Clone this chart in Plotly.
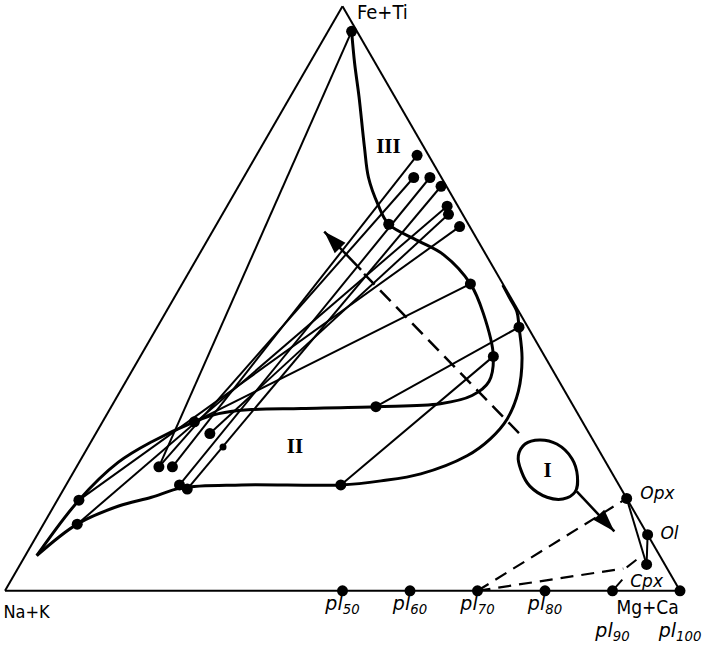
import plotly.graph_objects as go

# Ternary data in percent: a = Fe+Ti (top), c = Mg+Ca (right), b = Na+K = 100 - a - c
curve_upper_a = [95.7, 90.2, 84.5, 75.9, 70.7, 66.1, 62.7, 59.9, 57.5, 52.5, 47.5, 40.1,
                 35.8, 33.4, 32.0, 31.5, 31.2, 31.0, 30.3, 28.9, 25.5, 22.0, 15.5, 6.0]
curve_upper_c = [3.5, 6.7, 10.2, 15.3, 18.5, 22.2, 25.5, 31.2, 36.2, 42.7, 47.1, 52.3,
                 53.8, 52.5, 48.5, 39.2, 28.3, 21.0, 16.5, 13.6, 9.0, 5.8, 3.2, 1.7]

curve_lower_a = [6.0, 11.4, 14.5, 16.0, 17.6, 18.1, 18.1, 18.8, 20.0, 23.1, 26.0, 29.4,
                 34.1, 39.8, 45.1, 47.7, 50.1, 52.3]
curve_lower_c = [1.7, 5.0, 9.6, 13.7, 17.4, 26.0, 40.7, 46.3, 51.6, 56.9, 58.9, 59.7,
                 59.0, 56.7, 53.6, 52.0, 49.7, 47.6]

field_I_a = [23.1, 25.1, 25.8, 25.1, 22.6, 19.6, 16.9, 15.7, 16.0, 17.9, 20.3, 23.1]
field_I_c = [64.5, 64.5, 66.3, 69.2, 72.7, 75.0, 76.0, 74.8, 72.3, 68.8, 66.4, 64.5]

tie_from_a = [74.5, 70.7, 70.7, 69.2, 65.8, 64.4, 62.3, 95.7, 28.9, 31.5, 18.1, 15.8, 9.6, 0.0, 4.0]
tie_from_c = [23.8, 25.2, 27.6, 30.0, 32.6, 33.5, 36.2, 3.5, 13.6, 39.2, 40.7, 84.2, 90.4, 90.0, 90.1]
tie_to_a = [21.2, 21.2, 18.1, 17.4, 11.4, 26.9, 15.5, 21.2, 52.5, 45.1, 40.1, 4.5, 4.5, 1.9, 5.3]
tie_to_c = [14.2, 12.2, 16.8, 18.3, 5.0, 16.9, 3.2, 12.2, 42.7, 53.6, 52.3, 92.8, 92.8, 90.5, 90.9]

dashed_from_a = [0.0, 0.0]
dashed_from_c = [70.0, 70.0]
dashed_to_a = [15.8, 3.8]
dashed_to_c = [84.2, 89.7]

arrow_solid_a = [61.45, 54.9]
arrow_solid_c = [16.57, 25.3]
arrow_dash_a = [54.2, 26.5]
arrow_dash_c = [26.1, 63.3]
arrow_end_a = [17.0, 10.15]
arrow_end_c = [76.2, 85.2]

dot_a = [95.7, 74.5, 70.7, 70.7, 69.2, 65.8, 64.4, 62.3, 62.7, 52.5, 40.1, 45.1, 31.5,
         18.1, 28.9, 26.9, 21.2, 21.2, 18.1, 17.4, 15.5, 11.4, 15.8, 9.6, 4.5,
         0, 0, 0, 0, 0, 0]
dot_c = [3.5, 23.8, 25.2, 27.6, 30.0, 32.6, 33.5, 36.2, 25.5, 42.7, 52.3, 53.6, 39.2,
         40.7, 13.6, 16.9, 12.2, 14.2, 16.8, 18.3, 3.2, 5.0, 84.2, 90.4, 92.8,
         50, 60, 70, 80, 90, 100]
small_dot_a = [24.6]
small_dot_c = [20.0]

pl_c = [50, 60, 70, 80]
pl_text = ["<i>pl<sub>50</sub></i>", "<i>pl<sub>60</sub></i>",
           "<i>pl<sub>70</sub></i>", "<i>pl<sub>80</sub></i>"]
pl_low_c = [90, 100]
pl_low_text = ["<i>pl<sub>90</sub></i>", "<i>pl<sub>100</sub></i>"]

field_labels = ["<b>III</b>", "<b>II</b>", "<b>I</b>"]
field_label_a = [75.8, 24.5, 20.4]
field_label_c = [18.9, 30.7, 70.2]


def tern(a_list, c_list):
    b_list = [None if a is None else max(0.0, round(100 - a - c, 4))
              for a, c in zip(a_list, c_list)]
    return dict(a=a_list, b=b_list, c=c_list)


def segments(fa, fc, ta, tc):
    a, c = [], []
    for i in range(len(fa)):
        a += [fa[i], ta[i], None]
        c += [fc[i], tc[i], None]
    return a, c


fig = go.Figure()
common = dict(cliponaxis=False, hoverinfo="skip", showlegend=False)

# tie lines
ta, tc = segments(tie_from_a, tie_from_c, tie_to_a, tie_to_c)
fig.add_trace(go.Scatterternary(**tern(ta, tc), mode="lines",
                                line=dict(color="black", width=2), **common))
# dashed lines from pl70
da, dc = segments(dashed_from_a, dashed_from_c, dashed_to_a, dashed_to_c)
fig.add_trace(go.Scatterternary(**tern(da, dc), mode="lines",
                                line=dict(color="black", width=2.2, dash="13px,8px"), **common))
# field boundaries
curve_line = dict(color="black", width=3, shape="spline", smoothing=1.0)
fig.add_trace(go.Scatterternary(**tern(curve_upper_a, curve_upper_c), mode="lines",
                                line=curve_line, **common))
fig.add_trace(go.Scatterternary(**tern(curve_lower_a, curve_lower_c), mode="lines",
                                line=curve_line, **common))
fig.add_trace(go.Scatterternary(**tern(field_I_a, field_I_c), mode="lines",
                                line=dict(color="black", width=3, shape="spline", smoothing=1.2),
                                **common))
# trend arrow
fig.add_trace(go.Scatterternary(**tern(arrow_solid_a, arrow_solid_c), mode="lines",
                                line=dict(color="black", width=2.5), **common))
fig.add_trace(go.Scatterternary(**tern(arrow_dash_a, arrow_dash_c), mode="lines",
                                line=dict(color="black", width=2.5, dash="15px,8px"), **common))
fig.add_trace(go.Scatterternary(**tern(arrow_end_a, arrow_end_c), mode="lines",
                                line=dict(color="black", width=2.5), **common))
fig.add_trace(go.Scatterternary(**tern([arrow_solid_a[0], arrow_end_a[1]],
                                       [arrow_solid_c[0], arrow_end_c[1]]),
                                mode="markers",
                                marker=dict(symbol="arrow", size=24, color="black",
                                            angle=[-44, 137], line=dict(width=0)),
                                **common))
# dots
fig.add_trace(go.Scatterternary(**tern(dot_a, dot_c), mode="markers",
                                marker=dict(size=11, color="black"), **common))
fig.add_trace(go.Scatterternary(**tern(small_dot_a, small_dot_c), mode="markers",
                                marker=dict(size=7, color="black"), **common))

clear = "rgba(0,0,0,0)"


def label(a, c, text, pos, offset, size, family="DejaVu Sans", color="black"):
    fig.add_trace(go.Scatterternary(**tern(a, c), mode="markers+text", text=text,
                                    textposition=pos,
                                    marker=dict(size=offset, color=clear),
                                    textfont=dict(size=size, family=family, color=color),
                                    **common))


label([0] * len(pl_c), pl_c, pl_text, "bottom center", 6, 19)
label([0] * len(pl_low_c), pl_low_c, pl_low_text, "bottom center", 49, 19)

vfont = "DejaVu Sans Condensed, DejaVu Sans"
label([98.6], [1.4], ["Fe+Ti"], "middle right", 14, 20, vfont)
label([0.0], [3.2], ["Na+K"], "bottom center", 21, 18, vfont)
label([0.0], [95.2], ["Mg+Ca"], "bottom center", 13, 19, vfont)

label([16.5], [83.5], ["<i>Opx</i>"], "middle right", 24, 17)
label([9.6], [90.4], ["<i>Ol</i>"], "middle right", 19, 17)
label([4.5], [92.8], ["<i>Cpx</i>"], "bottom center", 14, 17)

fig.add_trace(go.Scatterternary(**tern(field_label_a, field_label_c), mode="text",
                                text=field_labels, textposition="middle center",
                                textfont=dict(size=21, family="Liberation Serif", color="black"),
                                **common))

axis = dict(showgrid=False, showticklabels=False, ticks="", showline=True,
            linecolor="black", linewidth=2, title=dict(text=""))
fig.update_layout(
    width=703, height=647,
    margin=dict(l=5, r=23, t=6, b=56, pad=0),
    paper_bgcolor="white",
    showlegend=False,
    hovermode=False,
    font=dict(family="DejaVu Sans", color="black"),
    ternary=dict(sum=100, bgcolor="white",
                 aaxis=axis, baxis=axis, caxis=axis),
)

fig.write_html("out.html",
               config={"displayModeBar": False},
               post_script="document.body.style.margin='0';document.body.style.padding='0';"
                           "document.body.style.overflow='hidden';")
